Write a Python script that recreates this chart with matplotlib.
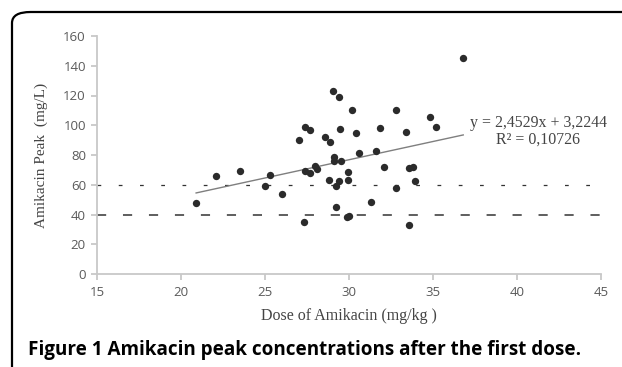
import matplotlib.pyplot as plt
from matplotlib.patches import FancyBboxPatch
import numpy as np

# dose (mg/kg) and peak concentration (mg/L)
dose = [20.9, 22.1, 23.5, 25.0, 25.3, 26.0, 27.0, 27.3, 27.4, 27.4,
        27.7, 27.7, 28.0, 28.1, 28.6, 28.85, 28.8, 29.05, 29.1, 29.1,
        29.2, 29.2, 29.4, 29.45, 29.4, 29.5, 29.9, 30.0, 29.96, 29.96,
        30.2, 30.4, 30.6, 31.3, 31.6, 31.85, 32.1, 32.8, 32.8, 33.4,
        33.6, 33.8, 33.6, 33.9, 34.8, 35.2, 36.8]
peak = [47.5, 65.9, 69.0, 59.2, 66.6, 53.6, 90.3, 34.7, 69.2, 99.0,
        96.8, 67.7, 72.6, 70.6, 92.1, 88.9, 63.2, 123.2, 78.9, 76.2,
        59.2, 45.0, 118.8, 97.5, 62.7, 76.2, 38.1, 39.0, 68.4, 63.0,
        110.5, 94.6, 81.1, 48.4, 82.7, 97.9, 71.9, 110.0, 57.8, 95.7,
        71.5, 71.9, 32.9, 62.3, 105.3, 99.0, 145.4]

slope, intercept = 2.4529, 3.2244
r2 = 0.10726
xticks = [15, 20, 25, 30, 35, 40, 45]
yticks = [0, 20, 40, 60, 80, 100, 120, 140, 160]

fig = plt.figure(figsize=(6.22, 3.67), dpi=100)
ax = fig.add_axes([97/622, 1-274/367, 504/622, 238/367])

# rounded frame around the figure (cut off at right/bottom)
frame = FancyBboxPatch((12/622, -0.2), 1.2, 1 - 12/367 + 0.2,
                       boxstyle="round,pad=0,rounding_size=0.03",
                       transform=fig.transFigure, fill=False,
                       ec='black', lw=1.6, zorder=0)
fig.patches.append(frame)

ax.axhline(60, color='#333333', lw=0.9, dashes=(3, 14))
ax.axhline(40, color='#333333', lw=1.1, dashes=(6, 11))

xs = np.array([min(dose), max(dose)])
ax.plot(xs, slope*xs + intercept, color='#7f7f7f', lw=1.0)
ax.scatter(dose, peak, s=28, color='#2b2b2b', zorder=3, linewidths=0)

ax.set_xlim(15, 45)
ax.set_ylim(0, 160)
ax.set_xticks(xticks)
ax.set_yticks(yticks)

for s in ['top', 'right']:
    ax.spines[s].set_visible(False)
for s in ['left', 'bottom']:
    ax.spines[s].set_color('#c8c8c8')
    ax.spines[s].set_linewidth(1.3)
ax.tick_params(colors='#c8c8c8', labelcolor='#5a5a5a', length=4, width=1.3,
               labelsize=9.5)
for lab in ax.get_xticklabels() + ax.get_yticklabels():
    lab.set_family('Open Sans')
ax.tick_params(axis='x', pad=5)
ax.tick_params(axis='y', pad=4)

ax.set_xlabel('Dose of Amikacin (mg/kg )', family='Liberation Serif',
              fontsize=11.5, color='#444444', labelpad=6)
ax.set_ylabel('Amikacin Peak  (mg/L)', family='Liberation Serif',
              fontsize=11, color='#444444', labelpad=11)

ax.text(0.875, 0.636, 'y = 2,4529x + 3,2244', transform=ax.transAxes,
        ha='center', va='center', family='Liberation Serif', fontsize=11.4,
        color='#444444')
ax.text(0.875, 0.563, 'R² = 0,10726', transform=ax.transAxes,
        ha='center', va='center', family='Liberation Serif', fontsize=11.4,
        color='#444444')

fig.text(28/622, 1-350/367, 'Figure 1 Amikacin peak concentrations after the first dose.',
         family='Open Sans', weight='bold', fontsize=13.6, ha='left', va='center')

fig.savefig('out.png', dpi=100)
